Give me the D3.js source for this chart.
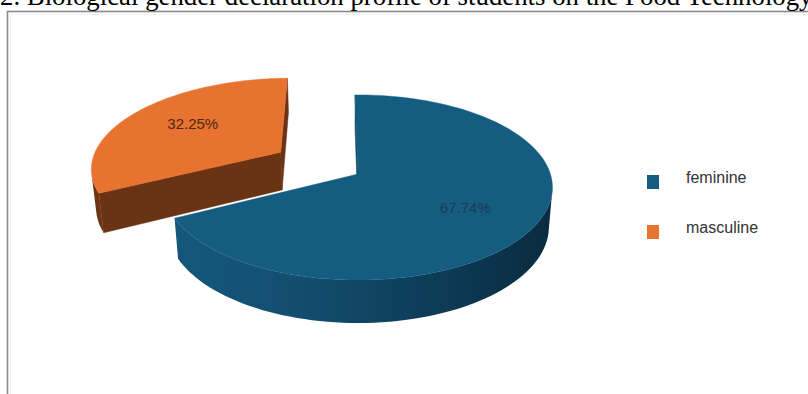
<!DOCTYPE html>
<html>
<head>
<meta charset="utf-8">
<script src="https://cdn.jsdelivr.net/npm/d3@7"></script>
<style>
html,body{margin:0;padding:0;background:#fff;overflow:hidden;}
svg{display:block;}
</style>
</head>
<body>
<svg id="chart" width="808" height="394"></svg>
<script>
// ---- data ----
const titleText = "2. Biological gender declaration profile of students on the Food Technology";
const categories = ["feminine", "masculine"];
const values = [67.74, 32.25];
const valueLabels = ["67.74%", "32.25%"];
const topColors = ["#155d80", "#e8722f"];
const sideColors = ["#0d4262", "#6a3414"];
const labelColors = ["#1d3a52", "#4a2a16"];
const explodeAmount = [0, 0.485];

// ---- geometry ----
const W = 808, H = 394;
const CX = 358, CY = 174, FOCAL = 1168, DIST = 6.07;
const PHI = 28.1 * Math.PI / 180;
const THICK = 0.232;
const sP = Math.sin(PHI), cP = Math.cos(PHI);
const startAngle = -1.0 * Math.PI / 180;

function proj(X, Y, Z) {
  const depth = DIST - Y * sP + Z * cP;
  const sy = Y * cP + Z * sP;
  return [CX + FOCAL * X / depth, CY - FOCAL * sy / depth];
}

const svg = d3.select("#chart");

// frame
svg.append("rect").attr("x", 10.5).attr("y", 14.5).attr("width", 900).attr("height", 500)
  .attr("fill", "none").attr("stroke", "#f0f0f0").attr("stroke-width", 1);
svg.append("rect").attr("x", 7.5).attr("y", 11.5).attr("width", 900).attr("height", 500)
  .attr("fill", "none").attr("stroke", "#8a8a8a").attr("stroke-width", 1.6);

// title
svg.append("text").attr("x", 0).attr("y", 5)
  .attr("font-family", "'Liberation Serif','Times New Roman',serif")
  .attr("font-size", 26.8).attr("fill", "#000").text(titleText);

const pie = d3.pie().sort(null).value(d => d)
  .startAngle(startAngle).endAngle(startAngle + 2 * Math.PI);
const arcs = pie(values);

const camPos = [0, DIST * sP, -DIST * cP];
function visible(P, n) {
  const v = [camPos[0] - P[0], camPos[1] - P[1], camPos[2] - P[2]];
  return v[0] * n[0] + v[1] * n[1] + v[2] * n[2] > 0;
}
function pathFrom(pts) {
  return "M" + pts.map(p => p[0].toFixed(2) + "," + p[1].toFixed(2)).join("L") + "Z";
}

const defs = svg.append("defs");
const gBlue = defs.append("linearGradient").attr("id", "sideGrad0")
  .attr("gradientUnits", "userSpaceOnUse").attr("x1", 170).attr("x2", 555).attr("y1", 0).attr("y2", 0);
[["0", "#15587c"], ["0.35", "#124d6d"], ["0.7", "#0d3b56"], ["1", "#092b3f"]]
  .forEach(s => gBlue.append("stop").attr("offset", s[0]).attr("stop-color", s[1]));
const gOr = defs.append("linearGradient").attr("id", "sideGrad1")
  .attr("gradientUnits", "userSpaceOnUse").attr("x1", 95).attr("x2", 290).attr("y1", 0).attr("y2", 0);
[["0", "#6e3515"], ["1", "#693313"]]
  .forEach(s => gOr.append("stop").attr("offset", s[0]).attr("stop-color", s[1]));

// draw order: farther (exploded) slice first
const order = [1, 0];
const gPie = svg.append("g");
order.forEach(i => {
  const a = arcs[i];
  const mid = (a.startAngle + a.endAngle) / 2;
  const ox = explodeAmount[i] * Math.sin(mid), oz = explodeAmount[i] * Math.cos(mid);
  const g = gPie.append("g");
  const N = 120;
  const angs = d3.range(N + 1).map(k => a.startAngle + (a.endAngle - a.startAngle) * k / N);
  // radial faces
  [a.startAngle, a.endAngle].forEach((ang, j) => {
    const dir = [Math.sin(ang), Math.cos(ang)];
    const n = j === 0 ? [-Math.cos(ang), 0, Math.sin(ang)] : [Math.cos(ang), 0, -Math.sin(ang)];
    const P = [ox + dir[0] * 0.5, 0, oz + dir[1] * 0.5];
    if (visible(P, n)) {
      const pts = [proj(ox, 0, oz), proj(ox + dir[0], 0, oz + dir[1]),
                   proj(ox + dir[0], -THICK, oz + dir[1]), proj(ox, -THICK, oz)];
      g.append("path").attr("d", pathFrom(pts)).attr("fill", sideColors[i])
        .attr("stroke", sideColors[i]).attr("stroke-width", 0.5);
    }
  });
  // outer side: visible angles
  const vis = angs.filter(t => visible([ox + Math.sin(t), 0, oz + Math.cos(t)], [Math.sin(t), 0, Math.cos(t)]));
  if (vis.length > 1) {
    const topPts = vis.map(t => proj(ox + Math.sin(t), 0, oz + Math.cos(t)));
    const botPts = vis.slice().reverse().map(t => proj(ox + Math.sin(t), -THICK, oz + Math.cos(t)));
    g.append("path").attr("d", pathFrom(topPts.concat(botPts)))
      .attr("fill", "url(#sideGrad" + i + ")");
  }
  // top face
  const topFace = [proj(ox, 0, oz)].concat(angs.map(t => proj(ox + Math.sin(t), 0, oz + Math.cos(t))));
  g.append("path").attr("d", pathFrom(topFace)).attr("fill", topColors[i])
    .attr("stroke", topColors[i]).attr("stroke-width", 0.4);
  // label
  const lr = i === 0 ? 0.62 : 0.64;
  const lp = proj(ox + lr * Math.sin(mid), 0, oz + lr * Math.cos(mid));
  g.append("text").attr("x", lp[0] + (i === 0 ? 0 : 6)).attr("y", lp[1] + (i === 0 ? 9 : 3))
    .attr("text-anchor", "middle")
    .attr("font-family", "'Liberation Sans',Arial,sans-serif").attr("font-size", 15)
    .attr("fill", labelColors[i]).text(valueLabels[i]);
});

// legend
const ly = d3.scalePoint().domain(categories).range([182, 232]);
const color = d3.scaleOrdinal().domain(categories).range(topColors);
const leg = svg.append("g");
categories.forEach(c => {
  leg.append("rect").attr("x", 647).attr("y", ly(c) - 7).attr("width", 12).attr("height", 14)
    .attr("fill", color(c));
  leg.append("text").attr("x", 686).attr("y", ly(c) + 1)
    .attr("font-family", "'Liberation Sans',Arial,sans-serif").attr("font-size", 16)
    .attr("fill", "#333").text(c);
});
</script>
</body>
</html>
